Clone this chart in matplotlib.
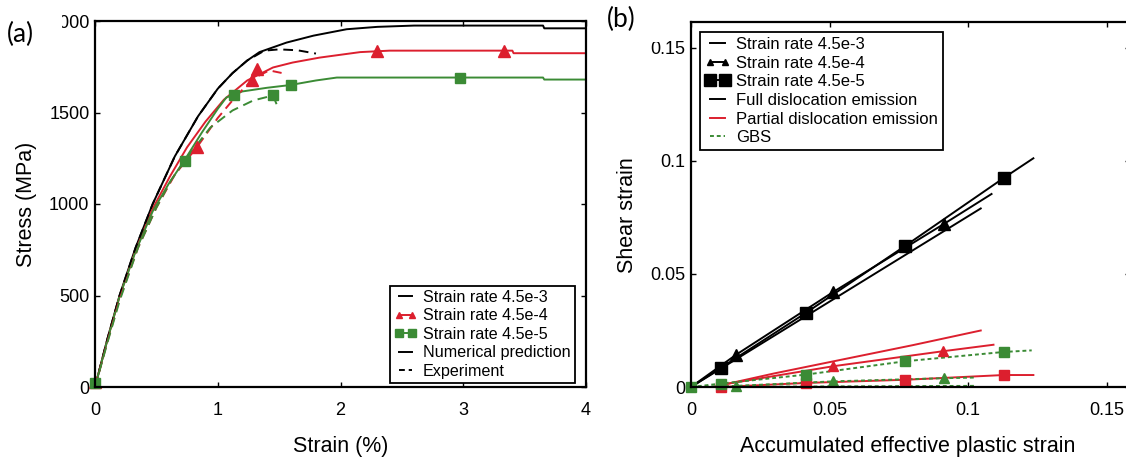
import matplotlib
matplotlib.use("Agg")
import matplotlib.pyplot as plt
from matplotlib.lines import Line2D
from matplotlib.patches import Rectangle

plt.rcParams['font.family'] = ['Liberation Sans', 'DejaVu Sans']

RED = '#dc1f2e'
GREEN = '#3b8b35'

# (a) stress-strain curves, numerical prediction per strain rate
strain_num_3 = [0, 0.1, 0.2, 0.33, 0.47, 0.65, 0.84, 1.0, 1.12, 1.24, 1.34, 1.56, 1.78, 2.05, 2.3, 2.6, 3.65, 3.66, 4.0]
stress_num_3 = [0, 260, 500, 760, 1000, 1260, 1480, 1630, 1715, 1784, 1830, 1882, 1920, 1955, 1968, 1975, 1975, 1960, 1960]
strain_num_4 = [0, 0.1, 0.2, 0.33, 0.47, 0.61, 0.75, 0.9, 1.05, 1.24, 1.45, 1.61, 1.83, 2.16, 2.4, 3.4, 3.41, 4.0]
stress_num_4 = [0, 255, 495, 745, 975, 1150, 1310, 1450, 1570, 1675, 1746, 1773, 1800, 1830, 1838, 1838, 1824, 1824]
strain_num_5 = [0, 0.1, 0.2, 0.33, 0.47, 0.6, 0.73, 0.87, 1.0, 1.07, 1.2, 1.4, 1.59, 1.8, 1.97, 3.65, 3.66, 4.0]
stress_num_5 = [0, 255, 495, 740, 960, 1110, 1240, 1390, 1520, 1582, 1615, 1635, 1650, 1675, 1691, 1691, 1680, 1680]

# (a) experiments
strain_exp_3 = [0, 0.1, 0.2, 0.33, 0.47, 0.65, 0.84, 1.0, 1.12, 1.24, 1.38, 1.5, 1.65, 1.8]
stress_exp_3 = [0, 260, 500, 760, 1000, 1260, 1480, 1630, 1715, 1784, 1838, 1845, 1840, 1822]
strain_exp_4 = [0, 0.1, 0.2, 0.35, 0.5, 0.65, 0.83, 1.0, 1.15, 1.3, 1.42, 1.52]
stress_exp_4 = [0, 245, 480, 760, 980, 1160, 1310, 1470, 1590, 1690, 1730, 1716]
strain_exp_5 = [0, 0.1, 0.2, 0.35, 0.5, 0.62, 0.75, 0.94, 1.12, 1.29, 1.45, 1.49]
stress_exp_5 = [0, 240, 470, 760, 980, 1130, 1255, 1418, 1511, 1566, 1593, 1528]

# (a) marker positions
tri_strain_a = [0.0, 0.83, 1.28, 1.32, 2.3, 3.33]
tri_stress_a = [30, 1310, 1680, 1735, 1838, 1838]
sq_strain_a = [0.0, 0.73, 1.13, 1.45, 1.6, 2.97]
sq_stress_a = [20, 1235, 1595, 1593, 1650, 1691]

# (b) shear strain vs accumulated effective plastic strain
# full dislocation emission
peeq_full_3 = [0, 0.1046]
shear_full_3 = [0, 0.079]
peeq_full_4 = [0, 0.0163, 0.0514, 0.0915, 0.1085]
shear_full_4 = [0, 0.0143, 0.0421, 0.0723, 0.0854]
peeq_full_5 = [0, 0.0108, 0.0416, 0.0774, 0.1129, 0.1236]
shear_full_5 = [0, 0.0085, 0.0329, 0.0625, 0.0925, 0.1012]
# partial dislocation emission
peeq_part_3 = [0.008, 0.03, 0.06, 0.08, 0.1046]
shear_part_3 = [0.0, 0.006, 0.0135, 0.0185, 0.025]
peeq_part_4 = [0.012, 0.0514, 0.0908, 0.1092]
shear_part_4 = [0.0012, 0.0092, 0.0158, 0.0187]
peeq_part_5 = [0.0108, 0.0416, 0.0774, 0.1129, 0.1236]
shear_part_5 = [0.0, 0.0018, 0.0032, 0.0053, 0.0053]
# grain boundary sliding
peeq_gbs_3 = [0, 0.1025]
shear_gbs_3 = [0, 0.0005]
peeq_gbs_4 = [0, 0.0163, 0.0514, 0.0915, 0.103]
shear_gbs_4 = [0, 0.0005, 0.0025, 0.0039, 0.0042]
peeq_gbs_5 = [0, 0.0108, 0.0416, 0.0774, 0.1129, 0.123]
shear_gbs_5 = [0, 0.0015, 0.0055, 0.0114, 0.0155, 0.0162]

# (b) marker positions
tri_full_x = [0.0163, 0.0514, 0.0915]
tri_full_y = [0.0143, 0.0421, 0.0723]
sq_full_x = [0.0108, 0.0416, 0.0774, 0.1129]
sq_full_y = [0.0085, 0.0329, 0.0625, 0.0925]
tri_part_x = [0.0514, 0.0908]
tri_part_y = [0.0092, 0.0158]
sq_part_x = [0.0108, 0.0416, 0.0774, 0.1129]
sq_part_y = [0.0, 0.0018, 0.0032, 0.0053]
tri_gbs_x = [0.0163, 0.0514, 0.0915]
tri_gbs_y = [0.0005, 0.0025, 0.0039]
sq_gbs_x = [0.0, 0.0108, 0.0416, 0.0774, 0.1129]
sq_gbs_y = [0.0, 0.0015, 0.0055, 0.0114, 0.0155]

W, H = 1126, 463
fig = plt.figure(figsize=(W / 100, H / 100), dpi=100)
axA = fig.add_axes([95 / W, 76 / H, 491 / W, 366 / H])
axB = fig.add_axes([691 / W, 76 / H, 0.1585 * 2770 / W, 365 / H])

for ax in (axA, axB):
    for s in ax.spines.values():
        s.set_linewidth(1.6)
    ax.tick_params(direction='in', length=3.5, width=1, top=True, right=True, labelsize=13)
    ax.tick_params(axis='x', pad=11)
    ax.tick_params(axis='y', pad=4)

lw = 1.4
dash = (0, (5, 3))

#panel (a)
axA.plot(strain_num_3, stress_num_3, color='k', lw=lw)
axA.plot(strain_num_4, stress_num_4, color=RED, lw=lw)
axA.plot(strain_num_5, stress_num_5, color=GREEN, lw=lw)
axA.plot(strain_exp_3, stress_exp_3, color='k', lw=lw, ls=dash)
axA.plot(strain_exp_4, stress_exp_4, color=RED, lw=lw, ls=dash)
axA.plot(strain_exp_5, stress_exp_5, color=GREEN, lw=lw, ls=dash)
axA.plot(tri_strain_a, tri_stress_a, ls='none', marker='^', ms=8, color=RED, clip_on=False)
axA.plot(sq_strain_a, sq_stress_a, ls='none', marker='s', ms=7.5, color=GREEN, clip_on=False)

axA.set_xlim(0, 4)
axA.set_ylim(0, 2000)
axA.set_xticks([0, 1, 2, 3, 4])
axA.set_yticks([0, 500, 1000, 1500, 2000])
axA.set_xlabel("Strain (%)", fontsize=15.5)
axA.set_ylabel("Stress (MPa)", fontsize=15.5)
axA.xaxis.set_label_coords(0.5, -0.135)
axA.yaxis.set_label_coords(-0.118, 0.5)

handlesA = [
    Line2D([], [], color='k', lw=lw),
    Line2D([], [], color=RED, lw=lw, marker='^', ms=4.5),
    Line2D([], [], color=GREEN, lw=lw, marker='s', ms=6),
    Line2D([], [], color='k', lw=lw),
    Line2D([], [], color='k', lw=lw, ls=(0, (3, 2))),
]
labelsA = ["Strain rate 4.5e-3", "Strain rate 4.5e-4", "Strain rate 4.5e-5",
           "Numerical prediction", "Experiment"]
legA = axA.legend(handlesA, labelsA, loc='lower left', bbox_to_anchor=(0.601, 0.011),
                  borderaxespad=0, fontsize=11.6, numpoints=2, handlelength=1.4,
                  handletextpad=0.4, labelspacing=0.22, borderpad=0.25,
                  fancybox=False, edgecolor='k', framealpha=1)
legA.get_frame().set_linewidth(1.3)

#panel (b)
axB.plot(peeq_full_3, shear_full_3, color='k', lw=lw)
axB.plot(peeq_full_4, shear_full_4, color='k', lw=lw)
axB.plot(peeq_full_5, shear_full_5, color='k', lw=lw)
axB.plot(peeq_part_3, shear_part_3, color=RED, lw=lw)
axB.plot(peeq_part_4, shear_part_4, color=RED, lw=lw)
axB.plot(peeq_part_5, shear_part_5, color=RED, lw=lw)
gdash = (0, (2, 1.5))
axB.plot(peeq_gbs_3, shear_gbs_3, color=GREEN, lw=lw, ls=gdash)
axB.plot(peeq_gbs_4, shear_gbs_4, color=GREEN, lw=lw, ls=gdash)
axB.plot(peeq_gbs_5, shear_gbs_5, color=GREEN, lw=lw, ls=gdash)

axB.plot(tri_full_x, tri_full_y, ls='none', marker='^', ms=8, color='k')
axB.plot(sq_full_x, sq_full_y, ls='none', marker='s', ms=8.5, color='k')
axB.plot(tri_part_x, tri_part_y, ls='none', marker='^', ms=7.5, color=RED)
axB.plot(sq_part_x, sq_part_y, ls='none', marker='s', ms=7.5, color=RED, clip_on=False)
axB.plot(tri_gbs_x, tri_gbs_y, ls='none', marker='^', ms=7, color=GREEN, clip_on=False)
axB.plot(sq_gbs_x, sq_gbs_y, ls='none', marker='s', ms=7.5, color=GREEN, clip_on=False)

axB.set_xlim(0, 0.1585)
axB.set_ylim(0, 0.1615)
axB.set_xticks([0, 0.05, 0.1, 0.15])
axB.set_xticklabels(["0", "0.05", "0.1", "0.15"])
axB.set_yticks([0, 0.05, 0.1, 0.15])
axB.set_yticklabels(["0", "0.05", "0.1", "0.15"])
axB.set_xlabel("Accumulated effective plastic strain", fontsize=15.5)
axB.set_ylabel("Shear strain", fontsize=15.5)
axB.xaxis.set_label_coords(0.494, -0.135)
axB.yaxis.set_label_coords(-0.12, 0.47)

handlesB = [
    Line2D([], [], color='k', lw=lw),
    Line2D([], [], color='k', lw=lw, marker='^', ms=4.5),
    Line2D([], [], color='k', lw=lw, marker='s', ms=8),
    Line2D([], [], color='k', lw=lw),
    Line2D([], [], color=RED, lw=lw),
    Line2D([], [], color=GREEN, lw=lw, ls=(0, (2, 1.5))),
]
labelsB = ["Strain rate 4.5e-3", "Strain rate 4.5e-4", "Strain rate 4.5e-5",
           "Full dislocation emission", "Partial dislocation emission", "GBS"]
legB = axB.legend(handlesB, labelsB, loc='upper left', bbox_to_anchor=(0.02, 0.973),
                  borderaxespad=0, fontsize=12, numpoints=2, handlelength=1.5,
                  handletextpad=0.4, labelspacing=0.22, borderpad=0.3,
                  fancybox=False, edgecolor='k', framealpha=1)
legB.get_frame().set_linewidth(1.3)

# panel captions sit on white patches
fig.add_artist(Rectangle((0, (H - 42) / H), 62 / W, 42 / H, transform=fig.transFigure,
                         fc='white', ec='none', zorder=5))
fig.add_artist(Rectangle((600 / W, (H - 42) / H), 60 / W, 42 / H, transform=fig.transFigure,
                         fc='white', ec='none', zorder=5))
fig.text(7 / W, 1 - 34 / H, "(a)", fontsize=19, family=['Lato', 'DejaVu Sans'],
         va='center', ha='left', zorder=6)
fig.text(607 / W, 1 - 19 / H, "(b)", fontsize=19, family=['Lato', 'DejaVu Sans'],
         va='center', ha='left', zorder=6)

fig.savefig("out.png", dpi=100)
